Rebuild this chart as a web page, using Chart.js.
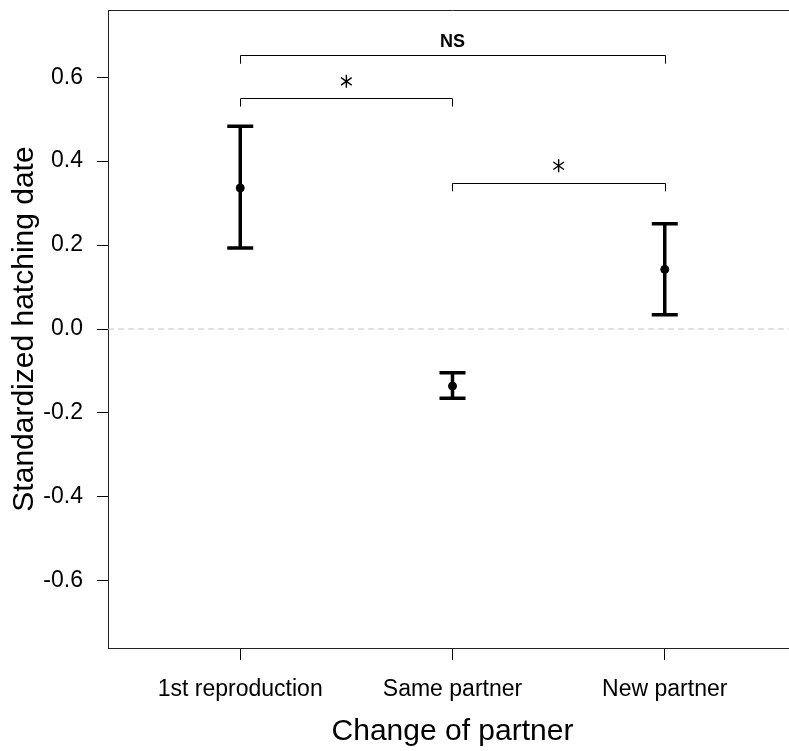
<!DOCTYPE html>
<html>
<head>
<meta charset="utf-8">
<script src="https://cdn.jsdelivr.net/npm/chart.js@4.4.1/dist/chart.umd.min.js"></script>
<style>
  html, body { margin: 0; padding: 0; background: #fff; overflow: hidden; }
  #wrap { width: 802px; height: 751px; }
</style>
</head>
<body>
<div id="wrap"><canvas id="grafica"></canvas></div>
<script>
// data
const categories = ['1st reproduction', 'Same partner', 'New partner'];
const means = [0.336, -0.136, 0.142];
const lower = [0.193, -0.165, 0.034];
const upper = [0.483, -0.104, 0.251];
const yTicks = [-0.6, -0.4, -0.2, 0.0, 0.2, 0.4, 0.6];

// significance brackets
const sigFrom = [1, 1, 2];
const sigTo = [3, 2, 3];
const sigY = [0.653, 0.551, 0.349];
const sigDrop = 0.021;
const sigText = ['NS', '*', '*'];
const sigTextY = [0.684, 0.59, 0.389];

const font = 'Liberation Sans, Arial, sans-serif';
const xMin = 0.377, xMax = 3.623;

const errorBars = {
  id: 'errorBars',
  beforeDatasetsDraw(chart) {
    const {ctx, scales: {x, y}} = chart;
    ctx.save();
    ctx.strokeStyle = '#000';
    ctx.lineWidth = 3.5;
    ctx.lineCap = 'butt';
    means.forEach((m, i) => {
      const px = x.getPixelForValue(i + 1);
      const yl = y.getPixelForValue(lower[i]);
      const yu = y.getPixelForValue(upper[i]);
      ctx.beginPath();
      ctx.moveTo(px, yl); ctx.lineTo(px, yu);
      ctx.moveTo(px - 13, yl); ctx.lineTo(px + 13, yl);
      ctx.moveTo(px - 13, yu); ctx.lineTo(px + 13, yu);
      ctx.stroke();
    });
    ctx.restore();
  },
  afterDraw(chart) {
    const {ctx, chartArea, scales: {x, y}} = chart;
    ctx.save();
    // top frame line
    ctx.strokeStyle = '#222';
    ctx.lineWidth = 1;
    ctx.beginPath();
    ctx.moveTo(chartArea.left, chartArea.top + 0.5);
    ctx.lineTo(chartArea.right, chartArea.top + 0.5);
    ctx.stroke();

    // brackets
    ctx.strokeStyle = '#000';
    ctx.fillStyle = '#000';
    sigFrom.forEach((a, i) => {
      const x1 = Math.round(x.getPixelForValue(a)) + 0.5;
      const x2 = Math.round(x.getPixelForValue(sigTo[i])) + 0.5;
      const yt = Math.round(y.getPixelForValue(sigY[i])) + 0.5;
      const yb = y.getPixelForValue(sigY[i] - sigDrop);
      ctx.lineWidth = 1;
      ctx.beginPath();
      ctx.moveTo(x1, yb); ctx.lineTo(x1, yt); ctx.lineTo(x2, yt); ctx.lineTo(x2, yb);
      ctx.stroke();

      const cx = (x.getPixelForValue(a) + x.getPixelForValue(sigTo[i])) / 2;
      const cy = y.getPixelForValue(sigTextY[i]);
      if (sigText[i] === '*') {
        // six-armed asterisk like the plotting symbol
        const r = 6.5;
        ctx.lineWidth = 1.4;
        ctx.beginPath();
        [90, 35, -35].forEach(d => {
          const t = d * Math.PI / 180;
          ctx.moveTo(cx - r * Math.cos(t), cy - r * Math.sin(t));
          ctx.lineTo(cx + r * Math.cos(t), cy + r * Math.sin(t));
        });
        ctx.stroke();
      } else {
        ctx.font = 'bold 18px ' + font;
        ctx.textAlign = 'center';
        ctx.textBaseline = 'middle';
        ctx.fillText(sigText[i], cx, cy);
      }
    });
    ctx.restore();
  }
};

new Chart(document.getElementById('grafica').getContext('2d'), {
  type: 'scatter',
  data: {
    datasets: [
      {
        label: 'zero',
        type: 'line',
        data: [{x: xMin, y: 0}, {x: xMax, y: 0}],
        borderColor: '#c4c4c4',
        borderWidth: 1,
        borderDash: [6, 4],
        pointRadius: 0,
        order: 3
      },
      {
        label: 'mean',
        data: means.map((m, i) => ({x: i + 1, y: m})),
        backgroundColor: '#000',
        borderColor: '#000',
        pointRadius: 4,
        order: 0
      }
    ]
  },
  plugins: [errorBars],
  options: {
    responsive: true,
    maintainAspectRatio: false,
    animation: false,
    layout: { padding: { left: 0, right: 1, top: 10, bottom: 0 } },
    plugins: {
      legend: { display: false },
      tooltip: { enabled: false }
    },
    scales: {
      x: {
        type: 'linear',
        min: xMin,
        max: xMax,
        afterBuildTicks: s => { s.ticks = categories.map((c, i) => ({value: i + 1})); },
        afterFit: s => { s.height = 103; s.paddingLeft = 0; s.paddingRight = 0; },
        ticks: {
          callback: (v, i) => categories[i],
          autoSkip: false,
          maxRotation: 0,
          minRotation: 0,
          padding: 16,
          color: '#000',
          font: { family: font, size: 23 }
        },
        grid: { drawOnChartArea: false, drawTicks: true, tickLength: 12, color: '#000' },
        border: { display: true, color: '#222', width: 1 },
        title: {
          display: true,
          text: 'Change of partner',
          color: '#000',
          font: { family: font, size: 30 },
          padding: { top: 0, bottom: 1 }
        }
      },
      y: {
        min: -0.76,
        max: 0.76,
        afterBuildTicks: s => { s.ticks = yTicks.map(v => ({value: v})); },
        afterFit: s => { s.width = 108; s.paddingTop = 0; s.paddingBottom = 0; },
        ticks: {
          callback: v => v.toFixed(1),
          padding: 14,
          color: '#000',
          font: { family: font, size: 23 }
        },
        grid: { drawOnChartArea: false, drawTicks: true, tickLength: 11, color: '#000' },
        border: { display: true, color: '#222', width: 1 },
        title: {
          display: true,
          text: 'Standardized hatching date',
          color: '#000',
          font: { family: font, size: 30 },
          padding: { top: 7, bottom: 0 }
        }
      }
    }
  }
});
</script>
</body>
</html>
